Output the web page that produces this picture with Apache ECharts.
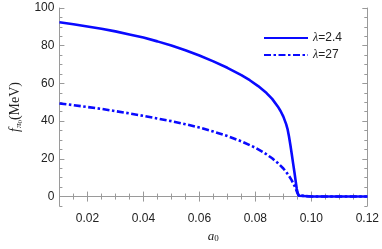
<!DOCTYPE html>
<html>
<head>
<meta charset="utf-8">
<script src="https://cdn.jsdelivr.net/npm/echarts@6/dist/echarts.min.js"></script>
<style>html,body{margin:0;padding:0;background:#fff}#c{width:382px;height:249px}</style>
</head>
<body>
<div id="c"></div>
<script>
// a0 sample points and f_pi0 values (MeV)
const x1 = [0.01,0.015,0.02,0.025,0.03,0.035,0.04,0.045,0.05,0.055,0.06,0.065,0.07,0.075,0.078,0.081,0.084,0.086,0.088,0.089,0.090,0.091,0.0915,0.092,0.0925,0.093,0.0935,0.094,0.0944,0.0948,0.0952,0.0956,0.0962,0.10,0.11,0.12];
const y1 = [92.4,91.4,90.2,89.0,87.6,86.0,84.3,82.3,80.1,77.6,74.8,71.7,68.3,64.4,61.7,58.6,54.9,51.8,47.8,45.4,42.4,38.4,35.8,32.0,27.5,22.6,17.5,12.5,8.2,4.0,1.5,0.4,0,0,0,0];
const x2 = [0.01,0.015,0.02,0.025,0.03,0.035,0.04,0.045,0.05,0.055,0.06,0.065,0.07,0.075,0.08,0.083,0.086,0.088,0.09,0.091,0.092,0.093,0.094,0.0945,0.095,0.0955,0.096,0.10,0.11,0.12];
const y2 = [49.4,48.5,47.5,46.5,45.3,44.1,42.8,41.4,40.0,38.4,36.6,34.5,32.1,29.3,25.9,23.4,20.3,17.8,14.9,13.1,11.0,8.6,5.6,3.9,2.0,0.6,0,0,0,0];
const seriesNames = ['λ=2.4','λ=27'];
const xMajor = [0.02,0.04,0.06,0.08,0.10,0.12];
const xMinor = [0.01,0.015,0.025,0.03,0.035,0.045,0.05,0.055,0.065,0.07,0.075,0.085,0.09,0.095,0.105,0.11,0.115];
const yMajor = [0,20,40,60,80,100];
const yMinor = [-5,5,10,15,25,30,35,45,50,55,65,70,75,85,90,95];

const frame = '#9a9a9a';
const blue = '#0a0aff';
const zip = (a,b) => a.map((v,i)=>[v,b[i]]);

function xAx(pos, ticks, len, showLine, showLabel) {
  return {
    type:'value', min:0.01, max:0.12, position:pos, gridIndex:0,
    axisLine:{show:showLine, lineStyle:{color:frame,width:1}},
    axisTick:{show:true, inside:true, length:len, customValues:ticks, lineStyle:{color:frame}},
    axisLabel:{show:showLabel, customValues:ticks, margin:7, color:'#222', fontSize:12, fontFamily:'Liberation Sans, Arial',
      formatter:v=>v.toFixed(2)},
    splitLine:{show:false}
  };
}
function yAx(pos, ticks, len, showLine, showLabel) {
  return {
    type:'value', min:-5, max:100, position:pos, gridIndex:0,
    axisLine:{show:showLine, lineStyle:{color:frame,width:1}},
    axisTick:{show:true, inside:true, length:len, customValues:ticks, lineStyle:{color:frame}},
    axisLabel:{show:showLabel, customValues:ticks, margin:5, color:'#222', fontSize:12, fontFamily:'Liberation Sans, Arial'},
    splitLine:{show:false}
  };
}
const xa0 = xAx('bottom', xMajor, 5, true, true);
xa0.name = '{a|a}{s|0}';
xa0.nameLocation = 'middle';
xa0.nameGap = 19;
xa0.nameTextStyle = {rich:{a:{fontFamily:'Liberation Serif',fontStyle:'italic',fontSize:13,color:'#222'},s:{fontFamily:'Liberation Serif',fontSize:9,color:'#222',padding:[5,0,0,0]}}};
const ya0 = yAx('left', yMajor, 5, true, true);
ya0.name = '{f|f}{p|π}{z|0}{m|(MeV)}';
ya0.nameLocation = 'middle';
ya0.nameGap = 35;
ya0.nameTextStyle = {rich:{
  f:{fontFamily:'Liberation Serif',fontStyle:'italic',fontSize:14,color:'#222'},
  p:{fontFamily:'Liberation Serif',fontStyle:'italic',fontSize:9,color:'#222',padding:[7,0,0,0]},
  z:{fontFamily:'Liberation Serif',fontSize:7,color:'#222',padding:[10,0,0,0]},
  m:{fontFamily:'Liberation Serif',fontSize:14,color:'#222'}
}};

const option = {
  animation:false,
  grid:{left:49,right:13,top:8,bottom:43,containLabel:false},
  xAxis:[xa0, xAx('bottom', xMinor, 3, false, false), xAx('top', xMajor, 5, true, false), xAx('top', xMinor, 3, false, false)],
  yAxis:[ya0, yAx('left', yMinor, 3, false, false), yAx('right', yMajor, 5, true, false), yAx('right', yMinor, 3, false, false)],
  legend:{
    orient:'vertical', left:263, top:32, padding:0, itemWidth:44, itemHeight:12, itemGap:5,
    data:seriesNames,
    itemStyle:{opacity:0},
    formatter: n => '{l|λ}' + n.slice(1),
    textStyle:{fontSize:12, color:'#222', fontFamily:'Liberation Sans, Arial', rich:{l:{fontSize:12,fontStyle:'italic',fontFamily:'Liberation Serif',color:'#222'}}}
  },
  series:[
    {name:seriesNames[0], type:'line', data:zip(x1,y1), smooth:false, showSymbol:false, symbol:'none',
     lineStyle:{color:blue, width:2.6, join:'round'}, itemStyle:{color:blue}},
    {name:seriesNames[1], type:'line', data:zip(x2,y2), smooth:false, showSymbol:false, symbol:'none',
     lineStyle:{color:blue, width:2.6, join:'round', type:[7,2.5,2.5,2.5]}, itemStyle:{color:blue}}
  ]
};
echarts.init(document.getElementById('c'), null, {renderer:'canvas'}).setOption(option);
</script>
</body>
</html>
